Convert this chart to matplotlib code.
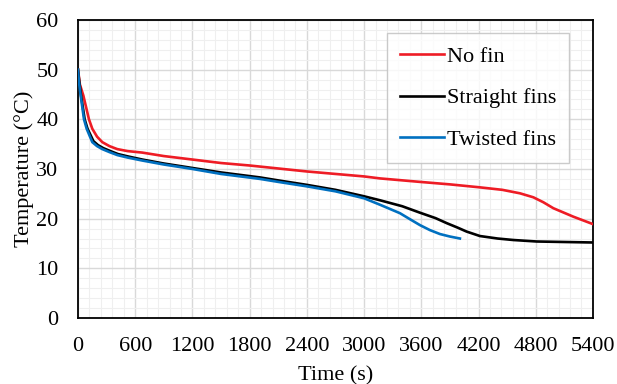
import numpy as np
import matplotlib.pyplot as plt
from matplotlib.ticker import MultipleLocator

plt.rcParams['font.family'] = ['Liberation Serif', 'DejaVu Serif']

# dados
t_nofin = [0, 20, 56, 115, 150, 200, 255, 330, 412, 520, 674, 900, 1200, 1500, 1800, 2100,
           2400, 2700, 3000, 3167, 3586, 3900, 4215, 4450, 4635, 4775, 4880, 4985, 5194, 5400]
T_nofin = [50, 47, 44.8, 40, 38.1, 36.5, 35.4, 34.6, 34.0, 33.6, 33.3, 32.6, 31.9, 31.2, 30.7, 30.1,
           29.5, 29.0, 28.5, 28.1, 27.4, 26.9, 26.3, 25.8, 25.1, 24.3, 23.3, 22.1, 20.4, 18.9]

t_straight = [0, 12, 32, 70, 100, 162, 210, 265, 340, 420, 530, 674, 900, 1200, 1500, 1908, 2100,
              2400, 2700, 3000, 3167, 3400, 3586, 3750, 3866, 3980, 4075, 4215, 4400, 4565, 4810,
              5100, 5400]
T_straight = [50, 47.8, 44.8, 40, 38.1, 35.6, 34.8, 34.2, 33.6, 33.0, 32.5, 31.9, 31.1, 30.2, 29.3,
              28.3, 27.7, 26.8, 25.8, 24.5, 23.7, 22.5, 21.2, 20.1, 19.1, 18.2, 17.4, 16.5, 16.0,
              15.7, 15.4, 15.3, 15.2]

t_twisted = [0, 10, 28, 63, 91, 150, 200, 255, 330, 412, 520, 674, 900, 1200, 1500, 1908, 2100,
             2400, 2700, 3000, 3167, 3376, 3480, 3586, 3690, 3796, 3900, 4005]
T_twisted = [50, 47.5, 44.8, 40, 38.1, 35.4, 34.6, 34.0, 33.4, 32.8, 32.3, 31.7, 30.9, 30.0, 29.0,
             28.0, 27.4, 26.5, 25.5, 24.1, 22.8, 21.1, 19.9, 18.7, 17.7, 16.9, 16.4, 16.0]

fig = plt.figure(figsize=(6.17, 3.84), dpi=100)
ax = fig.add_axes([0.1264, 0.1719, 0.8346, 0.7761])

ax.plot(t_nofin, T_nofin, color='#ee1c25', lw=1.9, label='No fin', zorder=3)
ax.plot(t_straight, T_straight, color='black', lw=1.9, label='Straight fins', zorder=3)
ax.plot(t_twisted, T_twisted, color='#0070c0', lw=1.9, label='Twisted fins', zorder=4)

ax.set_xlim(0, 5400)
ax.set_ylim(0, 60)
ax.xaxis.set_major_locator(MultipleLocator(600))
ax.xaxis.set_minor_locator(MultipleLocator(120))
ax.yaxis.set_major_locator(MultipleLocator(10))
ax.yaxis.set_minor_locator(MultipleLocator(2))
ax.grid(which='major', color='#d9d9d9', lw=1.0)
ax.grid(which='minor', color='#efefef', lw=0.8)
ax.set_axisbelow(True)
ax.tick_params(which='both', length=0, labelsize=16)
ax.tick_params(axis='x', pad=14)
ax.tick_params(axis='y', pad=14)

for s in ax.spines.values():
    s.set_linewidth(1.3)
    s.set_color('black')

ax.set_xlabel('Time (s)', fontsize=16, labelpad=7)
ax.set_ylabel('Temperature (°C)', fontsize=16)
ax.yaxis.set_label_coords(-0.085, 0.5)

leg = ax.legend(loc='upper right', bbox_to_anchor=(0.954, 0.957), fontsize=16,
                frameon=True, fancybox=False, handlelength=2.0, handletextpad=0.1,
                labelspacing=0.95, borderpad=0.6, borderaxespad=0)
leg.get_frame().set_edgecolor('#bfbfbf')
leg.get_frame().set_linewidth(1.0)

fig.savefig('out.png', dpi=100)
